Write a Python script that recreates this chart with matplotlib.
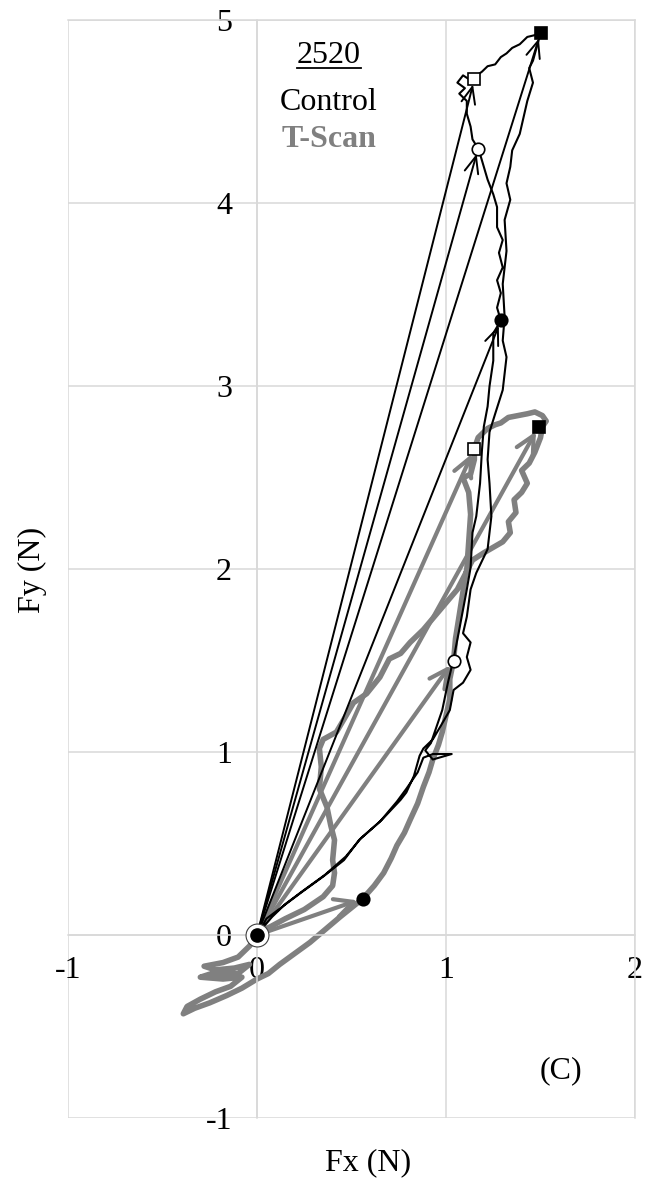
import matplotlib
matplotlib.use("Agg")
import matplotlib.pyplot as plt

plt.rcParams['font.family'] = 'Liberation Serif'
plt.rcParams['axes.unicode_minus'] = False

# axis ticks
x_ticks = [-1, 0, 1, 2]
y_ticks = [-1, 0, 1, 2, 3, 4, 5]

# Control trace (Fx, Fy in N)
ctrl_fx = [0.00, 0.05, 0.14, 0.23, 0.35, 0.46, 0.54, 0.65, 0.74, 0.79, 0.85, 0.88, 0.93, 1.03, 0.93,
           0.89, 0.92, 0.95, 0.98, 1.01, 1.04, 1.07, 1.09, 1.11, 1.13, 1.14, 1.16, 1.18, 1.19, 1.20,
           1.22, 1.23, 1.25, 1.25, 1.29, 1.27, 1.29, 1.27, 1.30, 1.28, 1.30, 1.27, 1.27, 1.25, 1.22,
           1.20, 1.18, 1.17, 1.14, 1.13, 1.11, 1.11, 1.07, 1.10, 1.06, 1.09, 1.12, 1.15, 1.19, 1.22,
           1.26, 1.29, 1.32, 1.35, 1.39, 1.43, 1.47, 1.50, 1.46, 1.44, 1.46, 1.43, 1.41, 1.39, 1.35,
           1.34, 1.32, 1.34, 1.31, 1.32, 1.30, 1.31, 1.30, 1.32, 1.31, 1.30, 1.26, 1.23, 1.22, 1.23,
           1.24, 1.22, 1.16, 1.13, 1.11, 1.09, 1.13, 1.11, 1.13, 1.09, 1.04, 1.02, 0.97, 0.93, 0.88,
           0.86, 0.83, 0.79, 0.76, 0.66, 0.55, 0.47, 0.36, 0.24, 0.15, 0.08, 0.02]
ctrl_fy = [0.00, 0.09, 0.16, 0.23, 0.32, 0.41, 0.52, 0.62, 0.73, 0.80, 0.89, 0.97, 0.99, 0.99, 0.96,
           1.01, 1.05, 1.14, 1.23, 1.38, 1.51, 1.67, 1.78, 1.89, 2.01, 2.20, 2.29, 2.47, 2.65, 2.78,
           2.89, 3.00, 3.14, 3.29, 3.36, 3.43, 3.51, 3.58, 3.65, 3.73, 3.80, 3.87, 3.98, 4.05, 4.13,
           4.20, 4.27, 4.30, 4.35, 4.42, 4.49, 4.56, 4.60, 4.63, 4.66, 4.70, 4.68, 4.69, 4.72, 4.75,
           4.76, 4.80, 4.82, 4.85, 4.87, 4.91, 4.92, 4.93, 4.78, 4.74, 4.66, 4.56, 4.47, 4.38, 4.29,
           4.20, 4.11, 4.02, 3.91, 3.74, 3.56, 3.38, 3.25, 3.16, 3.07, 2.98, 2.85, 2.75, 2.60, 2.47,
           2.29, 2.11, 1.98, 1.89, 1.74, 1.65, 1.60, 1.52, 1.45, 1.38, 1.34, 1.23, 1.14, 1.07, 1.02,
           0.98, 0.87, 0.78, 0.74, 0.63, 0.53, 0.43, 0.33, 0.24, 0.17, 0.10, 0.03]

# T-Scan trace
tscan_fx = [0.00, -0.04, -0.10, -0.18, -0.28, -0.22, -0.12, -0.04, -0.10, -0.24, -0.30, -0.18, -0.08,
            -0.14, -0.22, -0.30, -0.37, -0.39, -0.33, -0.25, -0.16, -0.08, 0.00, 0.06,
            0.12, 0.20, 0.28, 0.36, 0.44, 0.50, 0.56,
            0.62, 0.67, 0.71, 0.74, 0.78, 0.81, 0.85, 0.88, 0.91, 0.93, 0.96, 0.98, 1.00, 1.02, 1.02, 1.04,
            1.05, 1.07, 1.09, 1.11, 1.12, 1.13, 1.12, 1.09, 1.13, 1.15, 1.15,
            1.17, 1.22, 1.26, 1.29, 1.33, 1.38, 1.43, 1.47, 1.51, 1.53, 1.51,
            1.50, 1.47, 1.44, 1.40, 1.43, 1.40, 1.36, 1.37, 1.33, 1.34, 1.30, 1.25, 1.20,
            1.14, 1.06, 0.97, 0.88, 0.81, 0.76, 0.70, 0.65, 0.58, 0.51, 0.46, 0.42, 0.35, 0.33,
            0.34, 0.33, 0.37, 0.39, 0.41, 0.40, 0.41, 0.40, 0.35,
            0.25, 0.15, 0.06, -0.04, 0.00]
tscan_fy = [0.00, -0.06, -0.12, -0.15, -0.17, -0.19, -0.18, -0.16, -0.21, -0.21, -0.23, -0.24, -0.23,
            -0.28, -0.31, -0.35, -0.39, -0.43, -0.40, -0.37, -0.33, -0.29, -0.24, -0.21,
            -0.16, -0.10, -0.04, 0.03, 0.10, 0.15, 0.20,
            0.27, 0.34, 0.42, 0.49, 0.56, 0.63, 0.72, 0.81, 0.89, 0.96, 1.04, 1.11, 1.20, 1.29, 1.40, 1.50,
            1.62, 1.75, 1.88, 2.00, 2.15, 2.30, 2.42, 2.50, 2.52, 2.60, 2.66,
            2.72, 2.77, 2.79, 2.80, 2.83, 2.84, 2.85, 2.86, 2.84, 2.81, 2.78,
            2.72, 2.64, 2.58, 2.54, 2.47, 2.42, 2.38, 2.31, 2.26, 2.20, 2.15, 2.12, 2.09,
            2.05, 1.89, 1.78, 1.67, 1.60, 1.54, 1.51, 1.41, 1.32, 1.27, 1.18, 1.11, 1.07, 1.02,
            0.92, 0.80, 0.70, 0.60, 0.52, 0.41, 0.34, 0.27, 0.21,
            0.14, 0.09, 0.04, 0.02, 0.00]

# event points (arrows from origin) and their markers
ctrl_ev_fx = [1.29, 1.17, 1.15, 1.50]
ctrl_ev_fy = [3.36, 4.30, 4.68, 4.93]
tscan_ev_fx = [0.56, 1.04, 1.15, 1.49]
tscan_ev_fy = [0.20, 1.50, 2.66, 2.78]
ev_marker = ['o', 'o', 's', 's']
ev_face = ['k', 'w', 'w', 'k']

grey = '#808080'
gridc = '#d9d9d9'

fig = plt.figure(figsize=(6.54, 11.84), dpi=100)
ax = fig.add_axes([0.104, 0.0557, 0.867, 0.927])
ax.set_xlim(-1, 2)
ax.set_ylim(-1, 5)
ax.set_xticks(x_ticks)
ax.set_yticks(y_ticks)
ax.set_axisbelow(True)
ax.grid(True, color=gridc, lw=1.1)
for gl in ax.get_xgridlines() + ax.get_ygridlines():
    gl.set_clip_on(False)
for s in ax.spines.values():
    s.set_color(gridc)
    s.set_linewidth(1.1)
ax.spines['left'].set_position(('data', 0))
ax.spines['bottom'].set_position(('data', 0))
ax.tick_params(length=0, labelsize=23)
ax.tick_params(axis='x', pad=15)
ax.tick_params(axis='y', pad=18)

# traces
ax.plot(tscan_fx, tscan_fy, color=grey, lw=4, solid_joinstyle='round', zorder=2)
ax.plot(ctrl_fx, ctrl_fy, color='k', lw=1.5, zorder=3)

# arrows from origin to each event
for fx, fy in zip(tscan_ev_fx, tscan_ev_fy):
    ax.annotate('', xy=(fx, fy), xytext=(0, 0),
                arrowprops=dict(arrowstyle='->,head_length=0.6,head_width=0.3', color=grey,
                                lw=3, shrinkA=0, shrinkB=4, mutation_scale=22),
                zorder=2)
for fx, fy in zip(ctrl_ev_fx, ctrl_ev_fy):
    ax.annotate('', xy=(fx, fy), xytext=(0, 0),
                arrowprops=dict(arrowstyle='->,head_length=0.6,head_width=0.25', color='k',
                                lw=1.4, shrinkA=0, shrinkB=4, mutation_scale=20),
                zorder=4)

for xs, ys in [(tscan_ev_fx, tscan_ev_fy), (ctrl_ev_fx, ctrl_ev_fy)]:
    for fx, fy, m, fc in zip(xs, ys, ev_marker, ev_face):
        ax.plot(fx, fy, marker=m, ms=9, mfc=fc, mec='k', mew=1.2, ls='none', zorder=6)

# start point
ax.plot(0, 0, 'o', ms=16.5, mfc='white', mec='#404040', mew=0.8, zorder=7)
ax.plot(0, 0, 'o', ms=9.5, color='k', zorder=8)

# legend text
t = ax.text(0.38, 4.81, '2520', ha='center', va='center', fontsize=23)
ax.text(0.38, 4.55, 'Control', ha='center', va='center', fontsize=23)
ax.text(0.38, 4.35, 'T-Scan', ha='center', va='center', fontsize=23,
        fontweight='bold', color=grey)
ax.text(1.61, -0.74, '(C)', ha='center', va='center', fontsize=23)

fig.canvas.draw()
bb = t.get_window_extent().transformed(ax.transData.inverted())
ax.plot([bb.x0, bb.x1], [bb.y0 + 0.012, bb.y0 + 0.012], color='k', lw=1.3)

fig.text(0.050, 0.519, 'Fy (N)', rotation=90, ha='center', va='center', fontsize=23)
fig.text(0.563, 0.018, 'Fx (N)', ha='center', va='center', fontsize=23)

fig.savefig('out.png', dpi=100)
